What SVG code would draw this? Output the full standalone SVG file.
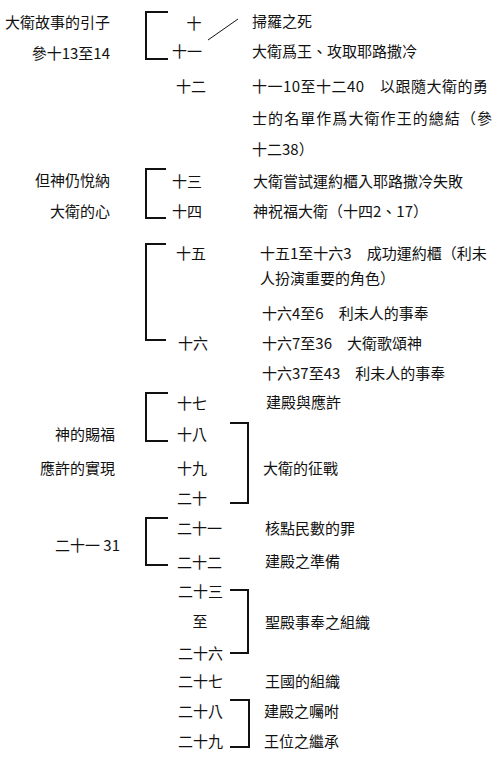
<svg xmlns="http://www.w3.org/2000/svg" width="500" height="759" viewBox="0 0 500 759">
<style>
text{font-family:"Noto Sans CJK TC","Noto Sans CJK SC",sans-serif;font-size:15px;fill:#111;dominant-baseline:central}
.l{text-anchor:end}
.m{text-anchor:middle}
.br{fill:none;stroke:#111;stroke-width:2}
.th{fill:none;stroke:#111;stroke-width:1}
</style>
<rect width="500" height="759" fill="#fff"/>
<g id="connectors">
<path class="br" d="M168,12 H146 V59 H168"/>
<path class="th" d="M208,40 L238,19"/>
<path class="br" d="M166,169 H146 V218 H166"/>
<path class="br" d="M166,244 H146 V340 H166"/>
<path class="br" d="M168,393 H146 V441 H168"/>
<path class="br" d="M230,423 H248 V503 H230"/>
<path class="br" d="M168,518 H146 V565 H168"/>
<path class="br" d="M230,590 H248 V653 H230"/>
<path class="br" d="M230,700 H249 V747 H230"/>
</g>
<g id="left-labels">
<text class="l" x="110" y="21">大衛故事的引子</text>
<text class="l" x="110" y="52">參十13至14</text>
<text class="l" x="110" y="179">但神仍悅納</text>
<text class="l" x="110" y="210">大衛的心</text>
<text class="l" x="115" y="433">神的賜福</text>
<text class="l" x="115" y="467">應許的實現</text>
<text x="55" y="544">二十一 31</text>
</g>
<g id="chapters">
<text class="m" x="194" y="22">十</text>
<text x="172" y="50">十一</text>
<text x="176" y="85">十二</text>
<text x="172" y="180">十三</text>
<text x="172" y="210">十四</text>
<text x="176" y="252">十五</text>
<text x="178" y="342">十六</text>
<text x="177" y="402">十七</text>
<text x="177" y="433">十八</text>
<text x="177" y="467">十九</text>
<text x="177" y="497">二十</text>
<text x="177" y="527">二十一</text>
<text x="177" y="561">二十二</text>
<text x="178" y="590">二十三</text>
<text class="m" x="200" y="620">至</text>
<text x="178" y="652">二十六</text>
<text x="178" y="680">二十七</text>
<text x="178" y="710">二十八</text>
<text x="178" y="740">二十九</text>
</g>
<g id="descriptions">
<text x="252" y="20">掃羅之死</text>
<text x="252" y="50">大衛爲王、攻取耶路撒冷</text>
<text x="252" y="85" textLength="236" lengthAdjust="spacing">十一10至十二40　以跟隨大衛的勇</text>
<text x="252" y="117" textLength="240" lengthAdjust="spacing">士的名單作爲大衛作王的總結（參</text>
<text x="252" y="148">十二38）</text>
<text x="253" y="180">大衛嘗試運約櫃入耶路撒冷失敗</text>
<text x="253" y="210">神祝福大衛（十四2、17）</text>
<text x="260" y="252">十五1至十六3　成功運約櫃（利未</text>
<text x="260" y="277">人扮演重要的角色）</text>
<text x="262" y="312">十六4至6　利未人的事奉</text>
<text x="262" y="342">十六7至36　大衛歌頌神</text>
<text x="262" y="372">十六37至43　利未人的事奉</text>
<text x="266" y="401">建殿與應許</text>
<text x="263" y="467">大衛的征戰</text>
<text x="265" y="527">核點民數的罪</text>
<text x="265" y="560">建殿之準備</text>
<text x="265" y="621">聖殿事奉之組織</text>
<text x="265" y="680">王國的組織</text>
<text x="264" y="710">建殿之囑咐</text>
<text x="264" y="740">王位之繼承</text>
</g>
</svg>
